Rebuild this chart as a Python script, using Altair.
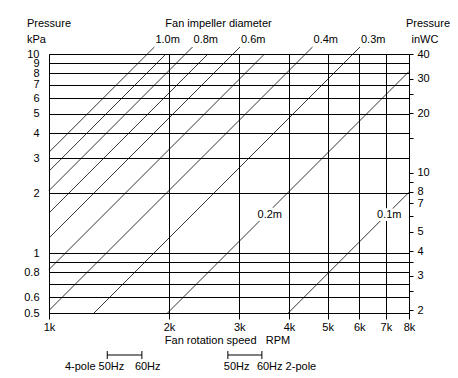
import json
import altair as alt
import pandas as pd

# ---- values ----
# Fan impeller diameter lines: lower and upper end points (rpm, kPa)
diameters = ["1.0m", "0.9m", "0.8m", "0.7m", "0.6m", "0.5m", "0.4m", "0.3m", "0.2m", "0.1m"]
rpm_low = [1000, 1000, 1000, 1000, 1000, 1000, 1000, 1297, 1983, 3984]
kpa_low = [3.21, 2.58, 2.06, 1.59, 1.19, 0.827, 0.515, 0.5, 0.5, 0.5]
rpm_high = [1838, 1965, 2291, 2505, 3014, 3472, 4582, 6028, 8000, 8000]
kpa_high = [10.84, 10.0, 10.84, 10.0, 10.84, 10.0, 10.84, 10.84, 8.17, 2.02]

# labels at the top ends of the lines
top_labels = ["1.0m", "0.8m", "0.6m", "0.4m", "0.3m"]
top_label_rpm = [1838, 2291, 3014, 4582, 6028]
top_label_kpa = [10.84, 10.84, 10.84, 10.84, 10.84]

# labels sitting on the lines inside the plot
inner_labels = ["0.2m", "0.1m"]
inner_label_rpm = [3580, 7136]
inner_label_kpa = [1.545, 1.545]

# axes
rpm_ticks = [1000, 2000, 3000, 4000, 5000, 6000, 7000, 8000]
kpa_domain = [0.5, 10]
kpa_ticks = [0.5, 0.6, 0.7, 0.8, 0.9, 1, 2, 3, 4, 5, 6, 7, 8, 9, 10]
kpa_unlabelled = [0.7, 0.9]
inwc_domain = [1.94, 40]
inwc_ticks = [2, 2.5, 3, 3.5, 4, 5, 6, 7, 8, 9, 10, 15, 20, 25, 30, 40]
inwc_labelled = [2, 3, 4, 5, 7, 8, 10, 20, 30, 40]

# motor speed ranges
poles = ["4-pole", "2-pole"]
rpm_50hz = [1400, 2810]
rpm_60hz = [1710, 3420]

FONT = "Liberation Sans"

# ---- tables ----
lines_df = pd.DataFrame(
    [{"d": d, "end": 0, "rpm": a, "kpa": b} for d, a, b in zip(diameters, rpm_low, kpa_low)]
    + [{"d": d, "end": 1, "rpm": a, "kpa": b} for d, a, b in zip(diameters, rpm_high, kpa_high)]
)
top_df = pd.DataFrame({"label": top_labels, "rpm": top_label_rpm, "kpa": top_label_kpa})
inner_df = pd.DataFrame({"label": inner_labels, "rpm": inner_label_rpm, "kpa": inner_label_kpa})
bracket_df = pd.DataFrame({"pole": poles, "rpm": rpm_50hz, "rpm2": rpm_60hz})
bracket_ends_df = pd.DataFrame({"rpm": rpm_50hz + rpm_60hz})
one = pd.DataFrame({"_": [0]})

x_scale = alt.Scale(type="log", domain=[rpm_ticks[0], rpm_ticks[-1]])
X = alt.X(
    "rpm:Q",
    scale=x_scale,
    axis=alt.Axis(
        values=rpm_ticks,
        labelExpr="(datum.value / 1000) + 'k'",
        grid=True, gridColor="black", gridOpacity=1, gridWidth=1,
        domainColor="black", tickColor="black", tickSize=6,
        labelPadding=2, labelFlush=False, labelOverlap=False, title=None,
    ),
)
X2 = alt.X("rpm2:Q", scale=x_scale)
Y = alt.Y(
    "kpa:Q",
    scale=alt.Scale(type="log", domain=kpa_domain),
    axis=alt.Axis(
        values=kpa_ticks,
        labelExpr="indexof(" + json.dumps(kpa_unlabelled) + ", datum.value) >= 0 ? '' : '' + datum.value",
        grid=True, gridColor="black", gridOpacity=1, gridWidth=1,
        domainColor="black", ticks=False, tickSize=0,
        labelPadding=10, labelFlush=False, labelOverlap=False, title=None,
    ),
)

lines = alt.Chart(lines_df).mark_line(color="black", strokeWidth=0.8).encode(
    x=X, y=Y, detail="d:N", order="end:Q"
)
top_text = alt.Chart(top_df).mark_text(align="left", baseline="alphabetic", dx=1, dy=-4, color="black").encode(
    x=X, y=Y, text="label:N"
)
inner_halo = alt.Chart(inner_df).mark_text(
    align="center", baseline="middle", fill="white", stroke="white", strokeWidth=6, strokeJoin="round"
).encode(x=X, y=Y, text="label:N")
inner_text = alt.Chart(inner_df).mark_text(align="center", baseline="middle", color="black").encode(
    x=X, y=Y, text="label:N"
)

bracket = alt.Chart(bracket_df).mark_rule(color="black", strokeWidth=1).encode(
    x=X, x2="rpm2:Q", y=alt.value(301)
)
bracket_ends = alt.Chart(bracket_ends_df).mark_rule(color="black", strokeWidth=1).encode(
    x=X, y=alt.value(297), y2=alt.value(305)
)


def label(txt, x, y, align="left"):
    return alt.Chart(one).mark_text(text=txt, align=align, baseline="alphabetic", color="black").encode(
        x=alt.value(x), y=alt.value(y)
    )


texts = [
    label("Pressure", -22, -27),
    label("kPa", -22, -11),
    label("Fan impeller diameter", 169.5, -27, "center"),
    label("Pressure", 379, -27, "center"),
    label("inWC", 376, -11, "center"),
    label("Fan rotation speed\u00a0\u00a0 RPM", 178.5, 289.5, "center"),
]


def pole_text(row, xenc, txt, align, dx):
    return alt.Chart(bracket_df.iloc[[row]]).mark_text(
        align=align, baseline="alphabetic", dx=dx, color="black"
    ).encode(x=xenc, y=alt.value(316), text=alt.value(txt))


pole_texts = [
    pole_text(0, X, "4-pole 50Hz", "right", 17),
    pole_text(0, X2, "60Hz", "left", -7),
    pole_text(1, X, "50Hz", "left", -4),
    pole_text(1, X2, "60Hz 2-pole", "left", -5),
]

inner = alt.layer(
    lines, top_text, inner_halo, inner_text, bracket, bracket_ends, *pole_texts, *texts
)

right = alt.Chart(pd.DataFrame({"inwc": inwc_ticks})).mark_point(opacity=0).encode(
    y=alt.Y(
        "inwc:Q",
        scale=alt.Scale(type="log", domain=inwc_domain),
        axis=alt.Axis(
            orient="right",
            values=inwc_ticks,
            labelExpr="indexof(" + json.dumps(inwc_labelled) + ", datum.value) >= 0 ? '' + datum.value : ''",
            grid=False, domainColor="black", tickColor="black", tickSize=4,
            labelPadding=4, labelFlush=False, labelOverlap=False, title=None,
        ),
    )
)

chart = (
    alt.layer(inner, right)
    .resolve_scale(y="independent")
    .properties(
        width=360, height=259,
        padding={"left": 49, "top": 54, "right": 49, "bottom": 65},
        autosize=alt.AutoSizeParams(type="none"),
        background="white",
    )
    .configure_view(stroke=None)
    .configure_axis(labelFont=FONT, labelFontSize=11, labelColor="black")
    .configure_text(font=FONT, fontSize=11)
)

chart.save("out.html", embed_options={"renderer": "svg", "actions": False})
